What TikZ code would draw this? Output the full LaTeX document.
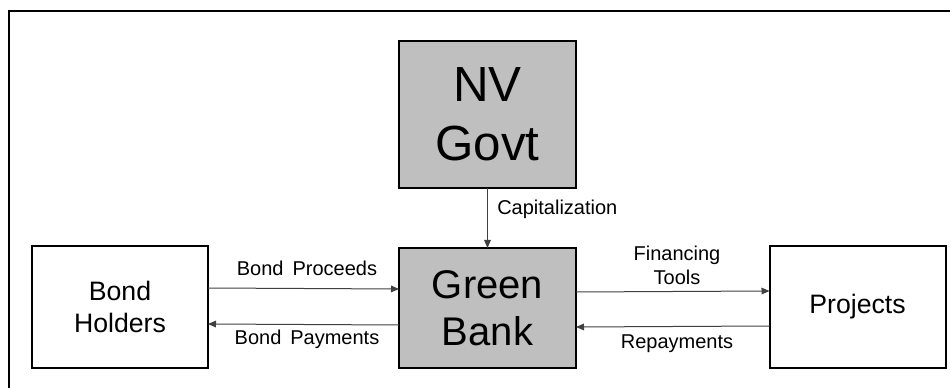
\documentclass[tikz,border=0pt]{standalone}
\usepackage{fontspec}
\setmainfont{Liberation Sans}
\usetikzlibrary{arrows.meta}
\definecolor{boxgray}{HTML}{BFBFBF}
\definecolor{arrgray}{HTML}{404040}
\tikzset{
  box/.style={draw=black, line width=1.5pt, inner sep=0pt, outer sep=0pt, align=center},
  bigbox/.style={box, fill=boxgray, minimum width=132.75pt},
  sidebox/.style={box, fill=white, minimum width=132pt, minimum height=91.5pt, font=\fontsize{20}{24}\selectfont},
  arr/.style={draw=arrgray, line width=0.75pt, -{Triangle[length=6pt,width=5pt]}},
  lbl/.style={font=\fontsize{15}{18}\selectfont, inner sep=0pt, align=center},
  frame/.style={draw=black, line width=1.5pt}
}
\begin{document}
\begin{tikzpicture}[x=0.75pt, y=-0.75pt]
\useasboundingbox (0,0) rectangle (950,388);
\clip (0,0) rectangle (950,388);
\draw[frame] (9,400) -- (9,11) -- (960,11);
\node[bigbox, minimum height=110.25pt, font=\fontsize{37}{44}\selectfont] (nv) at (487.5,114.5) {NV\\Govt};
\node[bigbox, minimum height=90pt, font=\fontsize{30}{35}\selectfont] (gb) at (487.5,308) {Green\\Bank};
\node[sidebox] (bh) at (120,307) {Bond\\Holders};
\node[sidebox] (pr) at (857.5,307) {Projects};
\draw[arr] (nv.south) -- (gb.north);
\node[lbl, anchor=west] (cap) at (497,209) {Capitalization};
\draw[arr] ([yshift=14.25pt]bh.east) -- ([yshift=14.25pt]gb.west);
\draw[arr] ([yshift=-12.75pt]gb.west) -- ([yshift=-12.75pt]bh.east);
\draw[arr] ([yshift=12pt]gb.east) -- ([yshift=12pt]pr.west);
\draw[arr] ([yshift=-14.25pt]pr.west) -- ([yshift=-14.25pt]gb.east);
\node[lbl] (bp) at (307,268) {Bond\hspace{0.45em}Proceeds};
\node[lbl] (bpay) at (307,339) {Bond\hspace{0.45em}Payments};
\node[lbl] (fin) at (677,265) {Financing\\Tools};
\node[lbl] (rep) at (677,344) {Repayments};
\end{tikzpicture}
\end{document}
